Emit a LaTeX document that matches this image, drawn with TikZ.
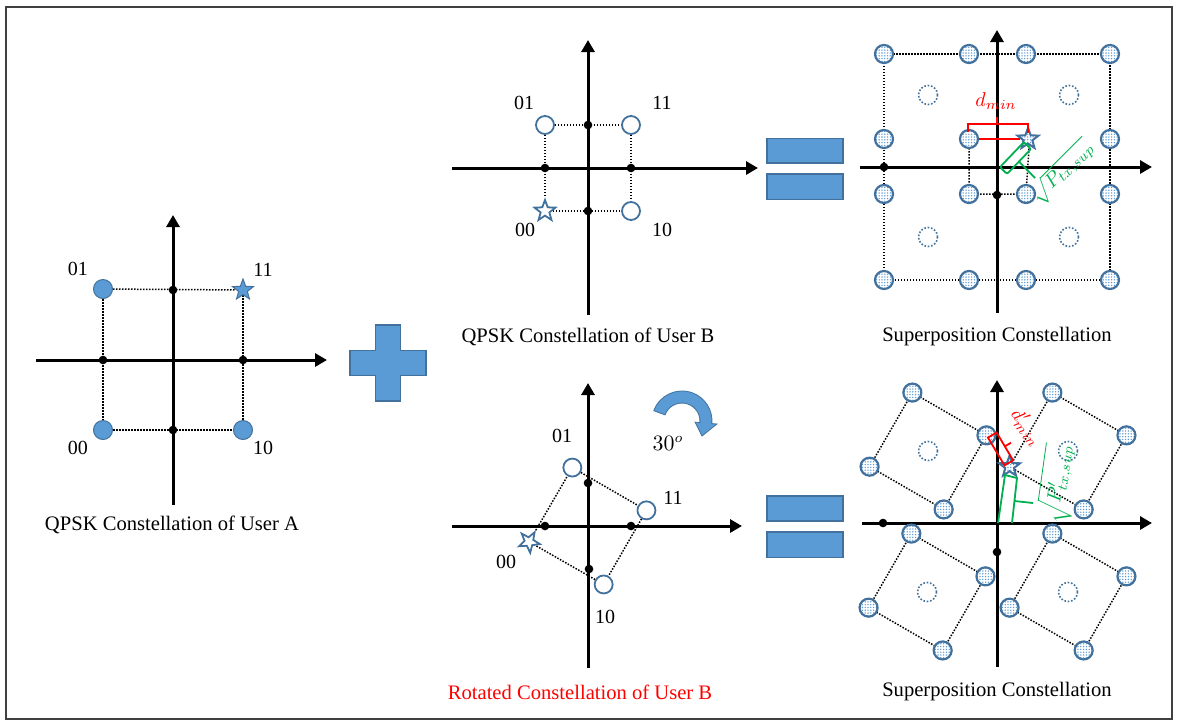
\documentclass[tikz,border=0pt]{standalone}
\usepackage{fontspec}
\setmainfont{Liberation Serif}
\usetikzlibrary{arrows.meta,shapes.geometric,patterns.meta,calc}
\definecolor{bfill}{HTML}{5B9BD5}
\definecolor{bline}{HTML}{41719C}
\definecolor{gr}{HTML}{00B050}
\definecolor{frm}{HTML}{404040}
\pgfdeclarelayer{bg}
\pgfsetlayers{bg,main}
\begin{document}
\begin{tikzpicture}[x=0.5pt,y=0.5pt,
 ax/.style={line width=1.5pt,-{Triangle[length=6pt,width=6.5pt]}},
 dl/.style={line width=0.75pt,dash pattern=on 0.75pt off 0.75pt},
 bd/.style={circle,fill=black,inner sep=0pt,minimum size=4.3pt},
 afill/.style={circle,fill=bfill,draw=bline,line width=0.5pt,minimum size=9.5pt,inner sep=0pt},
 bopen/.style={circle,fill=white,draw=bline,line width=0.9pt,minimum size=9pt,inner sep=0pt},
 sdot/.style={circle,draw=bline,line width=1.1pt,preaction={fill=white},pattern={Dots[radius=0.38pt,distance=1.4pt]},pattern color=bfill,minimum size=9pt,inner sep=0pt},
 sdash/.style={circle,draw=bline,line width=0.8pt,dash pattern=on 0.8pt off 0.9pt,minimum size=9.5pt,inner sep=0pt},
 starshape/.style={star,star points=5,star point ratio=2.4,minimum size=11pt,inner sep=0pt},
 sstar/.style={starshape,draw=bline,line width=1pt,preaction={fill=white},pattern={Dots[radius=0.38pt,distance=1.4pt]},pattern color=bfill},
 lbl/.style={font=\fontsize{10}{11}\selectfont,inner sep=0pt},
 captxt/.style={font=\fontsize{10.3}{12}\selectfont,inner sep=0pt},
 ann/.style={line width=0.9pt},
 opbox/.style={fill=bfill,draw=bline,line width=0.8pt}
]
\useasboundingbox (0,0) rectangle (1178,-725);
\draw[frm,line width=0.75pt] (6,-7) rectangle (1172,-719);

% ---------------- Panel A ----------------
\coordinate (aL) at (36,-360); \coordinate (aR) at (327,-360);
\coordinate (aB) at (173,-505); \coordinate (aT) at (173,-215);
\node[afill] (a01) at (103,-289) {};
\node[afill] (a00) at (103,-430) {};
\node[afill] (a10) at (243,-430) {};
\node[starshape,fill=bfill,draw=bline,line width=0.5pt] (a11) at (243,-290) {};
\node[bd] (ad1) at (173,-290) {};
\node[bd] (ad2) at (103,-360) {};
\node[bd] (ad3) at (243,-360) {};
\node[bd] (ad4) at (173,-430) {};
\node[lbl] (la01) at (78,-269) {01};
\node[lbl] (la11) at (263,-270) {11};
\node[lbl] (la00) at (78,-448) {00};
\node[lbl] (la10) at (263,-448) {10};
\node[captxt] (capA) at (172,-525) {QPSK Constellation of User A};

% ---------------- Panel B (top) ----------------
\coordinate (bL) at (452,-168); \coordinate (bR) at (758,-168);
\coordinate (bB) at (588,-315); \coordinate (bT) at (588,-40);
\node[bopen] (b01) at (545,-125) {};
\node[bopen] (b11) at (631,-125) {};
\node[bopen] (b10) at (631,-211) {};
\node[starshape,fill=white,draw=bline,line width=0.9pt] (b00) at (545,-211) {};
\node[bd] (bd1) at (588,-125) {};
\node[bd] (bd2) at (545,-168) {};
\node[bd] (bd3) at (631,-168) {};
\node[bd] (bd4) at (588,-211) {};
\node[lbl] (lb01) at (524,-103) {01};
\node[lbl] (lb11) at (662,-103) {11};
\node[lbl] (lb00) at (525,-230) {00};
\node[lbl] (lb10) at (662,-230) {10};
\node[captxt] (capB) at (588,-337) {QPSK Constellation of User B};

% ---------------- Panel B rotated ----------------
\coordinate (rc) at (588,-526);
\coordinate (rL) at (452,-526); \coordinate (rR) at (742,-526);
\coordinate (rB) at (588,-668); \coordinate (rT) at (588,-383);
\node[bopen] (r01) at ($(rc)+(105:60.5)$) {};
\node[bopen] (r11) at ($(rc)+(15:60.5)$) {};
\node[bopen] (r10) at ($(rc)+(-75:60.5)$) {};
\node[starshape,fill=white,draw=bline,line width=0.9pt,rotate=-30] (r00) at ($(rc)+(195:61)$) {};
\node[bd] (rd1) at (588,-483) {};
\node[bd] (rd2) at (545,-526) {};
\node[bd] (rd3) at (631,-526) {};
\node[bd] (rd4) at (589,-569) {};
\node[lbl] (lr01) at (562,-436) {01};
\node[lbl] (lr11) at (673,-498) {11};
\node[lbl] (lr00) at (506,-562) {00};
\node[lbl] (lr10) at (605,-617) {10};
\node[inner sep=0pt,font=\fontsize{10.5}{12}\selectfont] (deg) at (668,-443) {$30^o$};
\node[captxt,text=red] (capR) at (580,-692) {Rotated Constellation of User B};
% rotation arrow
\filldraw[fill=bfill,draw=bline,line width=0.4pt] (653.8,-410.7) arc[start angle=160,end angle=-5,radius=30]
  -- (716.9,-424) -- (702,-436) -- (695,-422.1) -- (699.9,-422.6)
  arc[start angle=-5,end angle=160,radius=18] -- cycle;

% ---------------- operators ----------------
\filldraw[opbox] (375.5,-325) -- (400.5,-325) -- (400.5,-350.5) -- (426,-350.5) -- (426,-375.5)
  -- (400.5,-375.5) -- (400.5,-401) -- (375.5,-401) -- (375.5,-375.5) -- (350,-375.5)
  -- (350,-350.5) -- (375.5,-350.5) -- cycle;
\filldraw[opbox] (767,-138.3) rectangle (843,-162.7);
\filldraw[opbox] (767,-174) rectangle (843,-199.3);
\filldraw[opbox] (767,-496) rectangle (843,-520.7);
\filldraw[opbox] (767,-531.7) rectangle (843,-557.3);

% ---------------- Superposition (top) ----------------
\coordinate (sL) at (860,-167); \coordinate (sR) at (1152,-167);
\coordinate (sB) at (997,-313); \coordinate (sT) at (997,-30);
\foreach \n/\x/\y in {t11/884/54,t12/969/54,t13/1026/54,t14/1110/54,
  t21/884/139,t22/969/139,t24/1110/139,
  t31/884/194,t32/969/194,t33/1026/194,t34/1110/194,
  t41/884/280,t42/969/280,t43/1026/280,t44/1110/280}
  {\node[sdot] (\n) at (\x,-\y) {};}
\node[sstar] (tstar) at (1028,-139) {};
\foreach \n/\x/\y in {td1/928/95,td2/1069/95,td3/928/237,td4/1069/237}
  {\node[sdash] (\n) at (\x,-\y) {};}
\node[bd] (sd1) at (884,-167) {};
\node[bd] (sd2) at (997,-195) {};
\node[captxt] (capS1) at (997,-337) {Superposition Constellation};
% red dmin
\draw[red,ann] (968,-132) -- (968,-124) -- (1028,-124) -- (1028,-133);
\draw[red,ann] (997,-124) -- (997,-117);
\draw[red,ann] (t22) -- (tstar);
\node[text=red,inner sep=0pt,font=\fontsize{9.8}{10}\selectfont] (dmin) at (996,-101) {$d_{min}$};
% green sqrt P
\draw[gr,ann,rounded corners=1pt] (1000,-167) -- (1024,-142) -- (1031,-149) -- (1007,-174) -- cycle;
\draw[gr,ann] (1019,-161.5) -- (1035,-178);
\node[text=gr,inner sep=0pt,rotate=45,font=\fontsize{9.8}{10}\selectfont] (ptx) at (1062,-172) {$\sqrt{P_{tx,sup}}$};

% ---------------- Superposition (bottom) ----------------
\coordinate (uL) at (862,-523); \coordinate (uR) at (1152,-523);
\coordinate (uB) at (997,-667); \coordinate (uT) at (997,-380);
\foreach \q/\cx/\cy/\sty in {ul/928/451/sdot,ur/1068/451/sstar,ll/927/592/sdot,lr/1068/592/sdot}{
  \coordinate (c\q) at (\cx,-\cy);
  \node[sdash] (\q d) at (c\q) {};
  \node[sdot] (\q105) at ($(c\q)+(105:60.5)$) {};
  \node[sdot] (\q15) at ($(c\q)+(15:60.5)$) {};
  \node[sdot] (\q-75) at ($(c\q)+(-75:60.5)$) {};
  \node[\sty] (\q195) at ($(c\q)+(195:60.5)$) {};
}
\node[bd] (ud1) at (883,-523) {};
\node[bd] (ud2) at (997,-552) {};
\node[captxt] (capS2) at (997,-692) {Superposition Constellation};
% red d'min
\draw[red,ann] (988,-437.6) -- (1004.5,-465.4) -- (1013.1,-460.3) -- (996.6,-432.5) -- cycle;
\draw[red,ann] (1004.8,-446.4) -- (1011,-442.7);
\node[text=red,inner sep=0pt,rotate=-52,font=\fontsize{9.5}{10}\selectfont] (dmin2) at (1027,-427) {$d'_{min}$};
% green sqrt P'
\draw[gr,ann] (998,-523) -- (1005,-475) -- (1017,-478) -- (1012,-523);
\draw[gr,ann] (1014.5,-501) -- (1033,-503);
\node[text=gr,inner sep=0pt,rotate=82,font=\fontsize{9.8}{10}\selectfont] (ptx2) at (1058,-484) {$\sqrt{P'_{tx,sup}}$};

% ---------------- background: axes and dotted lines ----------------
\begin{pgfonlayer}{bg}
\draw[ax] (aL) -- (aR); \draw[ax] (aB) -- (aT);
\draw[ax] (bL) -- (bR); \draw[ax] (bB) -- (bT);
\draw[ax] (rL) -- (rR); \draw[ax] (rB) -- (rT);
\draw[ax] (sL) -- (sR); \draw[ax] (sB) -- (sT);
\draw[ax] (uL) -- (uR); \draw[ax] (uB) -- (uT);
\draw[dl] (a01) -- (a11); \draw[dl] (a01) -- (a00); \draw[dl] (a00) -- (a10); \draw[dl] (a11) -- (a10);
\draw[dl] (b01) -- (b11); \draw[dl] (b01) -- (b00); \draw[dl] (b00) -- (b10); \draw[dl] (b11) -- (b10);
\draw[dl] (r01) -- (r11); \draw[dl] (r11) -- (r10); \draw[dl] (r10) -- (r00); \draw[dl] (r00) -- (r01);
\draw[dl] (t11.center) -- (t14.center) -- (t44.center) -- (t41.center) -- cycle;
\draw[dl] (t22.center) -- (t32.center) -- (t33.center) -- (1029,-148);
\foreach \q in {ul,ur,ll,lr}{
  \draw[dl] (\q105.center) -- (\q15.center) -- (\q-75.center) -- (\q195.center) -- cycle;
}
\end{pgfonlayer}
\end{tikzpicture}
\end{document}
